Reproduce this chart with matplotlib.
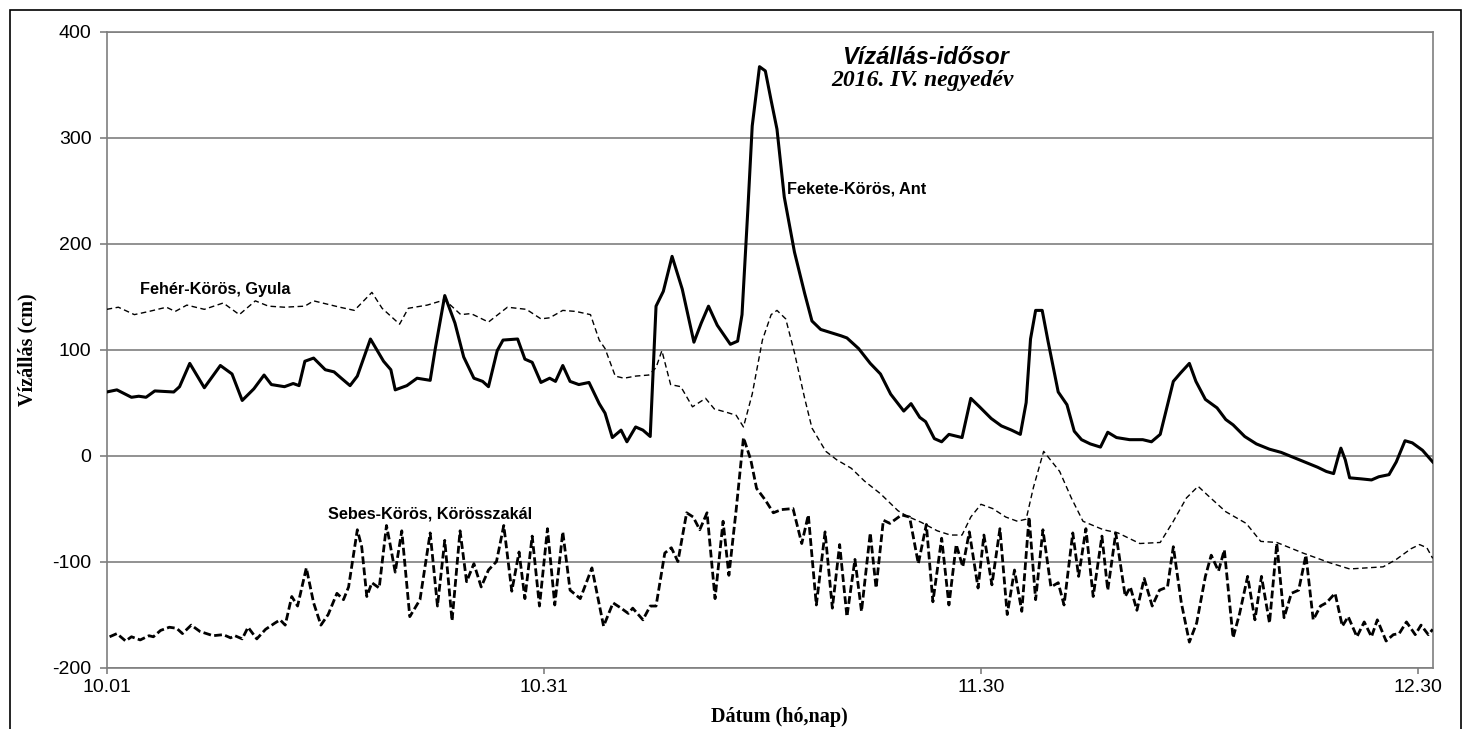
import matplotlib.pyplot as plt
from matplotlib.patches import Rectangle

plt.rcParams['axes.unicode_minus'] = False

# x = days since 10.01 (day 0), y = water level in cm
fekete_days = [0.0, 0.7, 1.7, 2.2, 2.7, 3.3, 4.6, 5.0, 5.7, 6.7, 7.8, 8.6, 9.3, 10.1, 10.8, 11.3,
               12.2, 12.8, 13.2, 13.6, 14.2, 15.0, 15.6, 16.1, 16.7, 17.2, 18.1, 19.0, 19.5, 19.8,
               20.6, 21.3, 22.2, 22.55, 23.2, 23.9, 24.5, 25.2, 25.8, 26.2, 26.8, 27.2, 28.2, 28.7,
               29.2, 29.8, 30.4, 30.8, 31.3, 31.8, 32.4, 33.1, 33.8, 34.2, 34.7, 35.3, 35.7, 36.3,
               36.8, 37.3, 37.7, 38.2, 38.8, 39.5, 40.3, 40.8, 41.3, 41.9, 42.8, 43.3, 43.6, 44.0,
               44.3, 44.8, 45.2, 45.6, 46.0, 46.5, 47.2, 47.9, 48.4, 49.0, 49.7, 50.4, 50.8, 51.6,
               52.4, 53.1, 53.8, 54.7, 55.2, 55.8, 56.2, 56.8, 57.3, 57.8, 58.7, 59.3, 59.9, 60.7,
               61.4, 62.1, 62.7, 63.1, 63.4, 63.75, 64.2, 64.6, 65.3, 65.9, 66.4, 66.9, 67.5, 68.2,
               68.7, 69.3, 70.2, 71.1, 71.7, 72.3, 73.2, 73.7, 74.3, 74.75, 75.4, 76.2, 76.8, 77.3,
               78.1, 78.9, 79.8, 80.6, 81.5, 82.2, 83.1, 83.7, 84.2, 84.5, 84.7, 85.0, 85.3, 86.1,
               86.8, 87.3, 88.0, 88.5, 89.1, 89.6, 90.3, 91.0]
fekete_cm = [60, 62, 55, 56, 55, 61, 60, 65, 87, 64, 85, 77, 52, 63, 76, 67,
             65, 68, 66, 89, 92, 81, 79, 73, 66, 75, 110, 89, 81, 62,
             66, 73, 71, 101, 151, 125, 93, 73, 70, 65, 99, 109, 110, 91,
             88, 69, 73, 70, 85, 70, 67, 69, 49, 40, 17, 24, 13, 27,
             24, 18, 141, 155, 188, 157, 107, 125, 141, 123, 105, 108, 133, 232,
             311, 367, 363, 335, 308, 244, 192, 153, 127, 119, 116, 113, 111, 101,
             87, 77, 58, 42, 49, 36, 32, 16, 13, 20, 17, 54, 46, 35,
             28, 24, 20, 50, 110, 137, 137, 108, 60, 48, 23, 15, 11, 8,
             22, 17, 15, 15, 13, 20, 70, 78, 87, 70, 53, 45, 34, 29,
             18, 11, 6, 3, -2, -6, -11, -15, -17, -2, 7, -4, -21, -22,
             -23, -20, -18, -6, 14, 12, 5, -6]

feher_days = [0.0, 0.8, 1.9, 2.9, 4.1, 4.7, 5.5, 6.7, 8.0, 9.1, 10.2, 11.1, 12.2, 13.6, 14.2,
              15.1, 16.0, 17.0, 18.2, 18.9, 20.1, 20.7, 22.0, 23.2, 24.3, 25.0, 26.2, 27.5, 28.8,
              29.8, 30.4, 31.3, 32.2, 33.2, 33.8, 34.2, 34.9, 35.5, 36.3, 37.2, 37.7, 38.1, 38.7,
              39.4, 40.2, 41.1, 41.7, 42.5, 43.2, 43.7, 44.3, 45.0, 45.6, 46.0, 46.6, 47.2, 47.9,
              48.4, 49.35, 50.1, 51.1, 52.0, 53.1, 54.3, 54.9, 55.9, 57.0, 57.9, 58.7, 59.3, 60.0,
              60.8, 61.7, 62.5, 63.1, 63.6, 64.3, 65.4, 66.2, 67.0, 68.4, 69.4, 70.9, 72.3, 73.2,
              74.1, 74.9, 75.6, 76.8, 78.2, 79.2, 80.3, 82.1, 83.9, 85.3, 87.6, 88.5, 89.5, 90.1,
              90.6, 91.0]
feher_cm = [138, 140, 133, 136, 140, 136, 142, 138, 144, 133, 146, 141, 140, 141, 146,
            143, 140, 137, 154, 139, 124, 139, 142, 147, 133, 134, 126, 140, 138,
            129, 130, 137, 136, 133, 109, 101, 75, 73, 75, 76, 83, 99, 67,
            65, 46, 54, 44, 41, 38, 27, 58, 109, 133, 137, 129, 97, 54,
            26, 4, -4, -12, -24, -36, -52, -57, -63, -71, -75, -75, -58, -46,
            -50, -58, -62, -60, -30, 4, -15, -40, -62, -70, -73, -83, -82, -62,
            -40, -29, -38, -53, -64, -81, -82, -92, -101, -107, -105, -98, -88, -84,
            -87, -97]

sebes_days = [0.2, 0.7, 1.3, 1.7, 2.3, 2.9, 3.2, 3.7, 4.3, 4.8, 5.2, 5.8, 6.4, 7.3, 8.0, 8.5,
              8.8, 9.3, 9.7, 10.3, 10.9, 11.55, 11.9, 12.25, 12.7, 13.1, 13.7, 14.2, 14.7, 15.2,
              15.8, 16.25, 16.6, 17.2, 17.5, 17.85, 18.2, 18.7, 19.2, 19.4, 19.8, 20.25, 20.8,
              21.5, 22.2, 22.7, 23.2, 23.7, 24.25, 24.7, 25.2, 25.7, 26.2, 26.75, 27.25, 27.8,
              28.3, 28.7, 29.2, 29.7, 30.25, 30.75, 31.3, 31.8, 32.5, 33.3, 34.1, 34.75, 35.3,
              35.8, 36.1, 36.8, 37.3, 37.7, 38.3, 38.75, 39.2, 39.8, 40.25, 40.7, 41.2, 41.75,
              42.3, 42.7, 43.2, 43.7, 44.2, 44.6, 45.2, 45.75, 46.3, 47.1, 47.7, 48.15, 48.7,
              49.3, 49.8, 50.3, 50.8, 51.35, 51.8, 52.4, 52.8, 53.3, 53.75, 54.55, 55.1, 55.7,
              56.25, 56.7, 57.3, 57.8, 58.3, 58.75, 59.2, 59.8, 60.2, 60.75, 61.3, 61.8, 62.3,
              62.8, 63.3, 63.75, 64.25, 64.8, 65.3, 65.7, 66.3, 66.7, 67.2, 67.7, 68.3, 68.7,
              69.25, 69.9, 70.25, 70.7, 71.2, 71.75, 72.25, 72.8, 73.2, 73.75, 74.3, 74.8, 75.4,
              75.8, 76.3, 76.7, 77.3, 77.75, 78.3, 78.8, 79.25, 79.8, 80.3, 80.8, 81.3, 81.8,
              82.3, 82.8, 83.3, 83.7, 84.3, 84.8, 85.2, 85.8, 86.3, 86.8, 87.2, 87.8, 88.3, 88.7,
              89.2, 89.8, 90.2, 90.7, 91.0]
sebes_cm = [-171, -168, -175, -171, -174, -170, -171, -165, -162, -163, -168, -160, -166, -170, -169, -172,
            -170, -173, -162, -173, -164, -158, -155, -160, -133, -142, -106, -139, -160, -150,
            -130, -136, -124, -70, -86, -133, -120, -125, -66, -80, -110, -71, -152,
            -136, -73, -142, -80, -156, -71, -119, -102, -124, -108, -100, -66, -128,
            -91, -135, -76, -142, -69, -141, -72, -127, -135, -106, -161, -139, -144,
            -149, -144, -155, -142, -142, -92, -87, -100, -54, -58, -70, -54, -135,
            -62, -113, -51, 17, -4, -31, -42, -54, -51, -50, -83, -56, -141,
            -72, -144, -84, -152, -98, -147, -73, -125, -61, -64, -56, -58, -102,
            -65, -138, -78, -141, -84, -105, -72, -125, -75, -122, -69, -150, -108,
            -147, -58, -136, -70, -124, -120, -141, -73, -114, -69, -133, -76, -127,
            -73, -133, -124, -146, -116, -142, -127, -124, -86, -139, -176, -158, -114,
            -94, -109, -89, -172, -149, -114, -155, -114, -158, -83, -153, -130, -127,
            -94, -155, -142, -139, -130, -161, -152, -171, -157, -171, -155, -175, -169, -168,
            -157, -169, -160, -169, -164]

tick_days = [0, 30, 60, 90]
tick_labels = ['10.01', '10.31', '11.30', '12.30']
y_ticks = [-200, -100, 0, 100, 200, 300, 400]

W, H = 1469, 729
fig = plt.figure(figsize=(W / 100, H / 100), dpi=100)
ax = fig.add_axes([106.7 / W, 1 - 667.5 / H, (1432.7 - 106.7) / W, (667.5 - 31.7) / H])

grey = '#7f7f7f'
ax.plot(feher_days, feher_cm, color='black', lw=1.0, linestyle=(0, (4, 2.5)), zorder=3)
ax.plot(sebes_days, sebes_cm, color='black', lw=2.0, linestyle=(0, (2.8, 1.2)),
        dash_joinstyle='round', zorder=4)
ax.plot(fekete_days, fekete_cm, color='black', lw=2.2, solid_joinstyle='round', zorder=5)

ax.set_xlim(0, 91)
ax.set_ylim(-200, 400)
ax.set_xticks(tick_days)
ax.set_xticklabels(tick_labels)
ax.set_yticks(y_ticks)
ax.yaxis.grid(True, color=grey, lw=1.2)
ax.set_axisbelow(True)
for sp in ax.spines.values():
    sp.set_color(grey)
    sp.set_linewidth(1.2)
ax.tick_params(axis='both', colors=grey, labelcolor='black', width=1.2)
ax.tick_params(axis='y', length=5, pad=6)
ax.tick_params(axis='x', length=4.5, pad=4)
for lab in ax.get_xticklabels() + ax.get_yticklabels():
    lab.set_fontfamily('Liberation Sans')
    lab.set_fontsize(14)

lab_font = dict(fontfamily='Liberation Sans', fontweight='bold', fontsize=11.7, ha='left', va='center')
ax.text(2.28, 157, 'Fehér-Körös, Gyula', **lab_font)
ax.text(46.7, 252, 'Fekete-Körös, Ant', **lab_font)
ax.text(15.2, -55, 'Sebes-Körös, Körösszakál', **lab_font)

ax.text(56.2, 376, 'Vízállás-idősor', ha='center', va='center', fontfamily='Liberation Sans',
        fontweight='bold', fontstyle='italic', fontsize=17)
ax.text(56.0, 354, '2016. IV. negyedév', ha='center', va='center', fontfamily='Liberation Serif',
        fontweight='bold', fontstyle='italic', fontsize=17)

fig.text(27 / W, 1 - 350 / H, 'Vízállás (cm)', rotation=90, ha='center', va='center',
         fontfamily='Liberation Serif', fontweight='bold', fontsize=14.5)
fig.text(779 / W, 1 - 717 / H, 'Dátum (hó,nap)', ha='center', va='center',
         fontfamily='Liberation Serif', fontweight='bold', fontsize=14.5)

fig.add_artist(Rectangle((9.5 / W, -0.05), (1460.5 - 9.5) / W, 1 - 9.5 / H + 0.05,
                         transform=fig.transFigure, fill=False, ec='black', lw=1.2))

fig.savefig('out.png', dpi=100)
